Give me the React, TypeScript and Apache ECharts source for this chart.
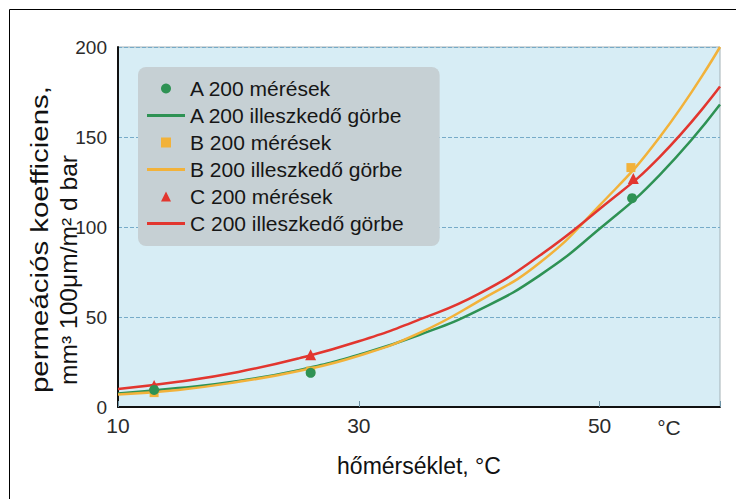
import React, { useEffect, useRef } from "react";
import * as echarts from "echarts";

// Fitted curves
const fitTemps = [10, 15, 20, 25, 30, 35, 40, 45, 50, 55, 60];
const fitA = [7.5, 10.5, 14.5, 20.5, 29, 40, 54, 73, 99, 129, 168];
const fitB = [7, 9.5, 14, 20, 28.5, 41, 59, 80, 112, 150, 200];
const fitC = [10, 14, 19.5, 27, 36.5, 48.5, 63, 84, 110, 139, 178];

// Measurements
const measTempsA = [13, 26, 52.7];
const measA = [9.5, 19, 116];
const measTempsB = [13, 26, 52.6];
const measB = [8, 20, 133];
const measTempsC = [13, 26, 52.8];
const measC = [12, 29, 127];

const xTicks = [10, 30, 50];
const yTitle1 = "permeációs koefficiens,";
const yTitle2 = "mm³ 100μm/m² d bar";
const xTitle = "hőmérséklet, °C";
const unitLabel = "°C";

const names = [
  "A 200 mérések",
  "A 200 illeszkedő görbe",
  "B 200 mérések",
  "B 200 illeszkedő görbe",
  "C 200 mérések",
  "C 200 illeszkedő görbe",
];

const GREEN = "#2e9254";
const YELLOW = "#f2b23a";
const RED = "#e2362f";
const SANS = "'Liberation Sans', Arial, sans-serif";

const ICON_LINE = "path://M0 0H38V3H0Z";
const ICON_CIRCLE = "circle";
const ICON_RECT = "path://M0 0H9V9H0Z";
const ICON_TRI = "path://M5 0L10 10H0Z";

const zip = (xs: number[], ys: number[]) => xs.map((x, i) => [x, ys[i]]);

export default function App() {
  const ref = useRef<HTMLDivElement>(null);
  useEffect(() => {
    if (!ref.current) return;
    const chart = echarts.init(ref.current, undefined, { renderer: "svg" });
    const lineSeries = (name: string, data: number[], color: string) => ({
      name,
      type: "line",
      smooth: true,
      symbol: "none",
      data: zip(fitTemps, data),
      lineStyle: { color, width: 2.5 },
      itemStyle: { color },
      z: 3,
    });
    const scatterSeries = (
      name: string,
      xs: number[],
      ys: number[],
      color: string,
      symbol: string,
      size: number,
      z: number
    ) => ({
      name,
      type: "scatter",
      symbol,
      symbolSize: size,
      data: zip(xs, ys),
      itemStyle: { color, opacity: 1 },
      z,
    });
    const legendIcons = [ICON_CIRCLE, ICON_LINE, ICON_RECT, ICON_LINE, ICON_TRI, ICON_LINE];
    chart.setOption({
      animation: false,
      backgroundColor: "#ffffff",
      grid: {
        left: 118,
        right: 16,
        top: 47,
        bottom: 92,
        show: true,
        backgroundColor: "#d7edf5",
        borderColor: "#a3b1b6",
        borderWidth: 1,
      },
      xAxis: {
        type: "value",
        min: 10,
        max: 60,
        interval: 20,
        axisLine: { show: true, lineStyle: { color: "#111", width: 2 } },
        axisTick: { show: true, inside: true, length: 6, lineStyle: { color: "#6f94a6" } },
        splitLine: { show: false },
        axisLabel: {
          margin: 8,
          fontSize: 21,
          fontFamily: SANS,
          color: "#2b2b2b",
          formatter: (v: number) => (xTicks.includes(v) ? String(v) : ""),
        },
        name: xTitle,
        nameLocation: "middle",
        nameGap: 47,
        nameTextStyle: { fontSize: 23, fontFamily: SANS, color: "#111" },
      },
      yAxis: {
        type: "value",
        min: 0,
        max: 200,
        interval: 50,
        axisLine: { show: true, lineStyle: { color: "#111", width: 2 } },
        axisTick: { show: false },
        splitLine: { show: true, lineStyle: { type: "dashed", color: "#76abc8", width: 1 } },
        axisLabel: { margin: 11, fontSize: 19, fontFamily: SANS, color: "#2b2b2b" },
      },
      legend: {
        orient: "vertical",
        left: 138,
        top: 67,
        itemWidth: 38,
        itemHeight: 10,
        itemGap: 6,
        padding: [11, 36, 12, 9],
        backgroundColor: "#c6d0d4",
        borderRadius: 8,
        symbolKeepAspect: true,
        textStyle: { fontSize: 21, fontFamily: SANS, color: "#161616" },
        data: names.map((n, i) => ({ name: n, icon: legendIcons[i] })),
      },
      series: [
        scatterSeries(names[0], measTempsA, measA, GREEN, "circle", 10, 6),
        lineSeries(names[1], fitA, GREEN),
        scatterSeries(names[2], measTempsB, measB, YELLOW, "rect", 9, 5),
        lineSeries(names[3], fitB, YELLOW),
        scatterSeries(names[4], measTempsC, measC, RED, "triangle", 11, 5),
        lineSeries(names[5], fitC, RED),
      ],
      graphic: [
        {
          type: "rect",
          shape: { x: 9.5, y: 9.5, width: 760, height: 520 },
          style: { fill: "none", stroke: "#000", lineWidth: 1 },
          silent: true,
        },
        {
          type: "text",
          x: 40,
          y: 393,
          rotation: Math.PI / 2,
          scaleX: 1.28,
          style: {
            text: yTitle1,
            fontSize: 23,
            fontFamily: SANS,
            fill: "#111",
            align: "left",
            verticalAlign: "middle",
          },
        },
        {
          type: "text",
          x: 69,
          y: 385,
          rotation: Math.PI / 2,
          scaleX: 1.07,
          style: {
            text: yTitle2,
            fontSize: 23,
            fontFamily: SANS,
            fill: "#111",
            align: "left",
            verticalAlign: "middle",
          },
        },
        {
          type: "text",
          x: 669,
          y: 427,
          style: {
            text: unitLabel,
            fontSize: 21,
            fontFamily: SANS,
            fill: "#2b2b2b",
            align: "center",
            verticalAlign: "middle",
          },
        },
      ],
    });
    return () => chart.dispose();
  }, []);
  return (
    <div
      ref={ref}
      style={{ position: "fixed", left: 0, top: 0, width: 736, height: 499 }}
    />
  );
}
